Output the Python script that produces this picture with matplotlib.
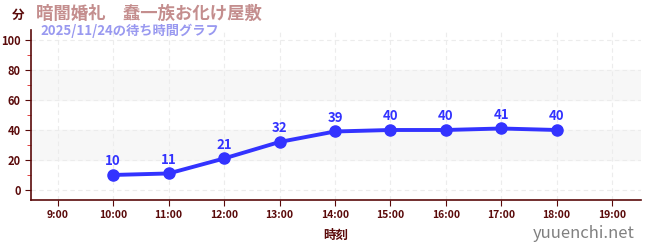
import matplotlib.pyplot as plt
from matplotlib.ticker import MultipleLocator

plt.rcParams['font.family'] = ['Noto Sans CJK JP', 'DejaVu Sans']

hours = [10, 11, 12, 13, 14, 15, 16, 17, 18]
waits = [10, 11, 21, 32, 39, 40, 40, 41, 40]
tick_hours = list(range(9, 20))
tick_labels = [f"{h}:00" for h in tick_hours]

title = "暗闇婚礼　蠢一族お化け屋敷"
subtitle = "2025/11/24の待ち時間グラフ"

axis_col = "#5a0a0a"
line_col = "#3333ff"

fig = plt.figure(figsize=(6.5, 2.5), dpi=100)
ax = fig.add_axes([0.048, 0.2, 0.938, 0.68])

ax.set_xlim(8.52, 19.52)
ax.set_ylim(-6.7, 106.7)

# shaded bands
for lo, hi in [(20, 40), (60, 80)]:
    ax.axhspan(lo, hi, color="#f7f7f7", zorder=0)

ax.set_xticks(tick_hours)
ax.set_xticklabels(tick_labels)
ax.set_yticks(range(0, 101, 20))
ax.yaxis.set_minor_locator(MultipleLocator(10))
ax.grid(True, which="major", color="#ececec", linestyle=(0, (4, 3)), linewidth=0.8)
ax.set_axisbelow(True)

for s in ["top", "right"]:
    ax.spines[s].set_visible(False)
for s in ["left", "bottom"]:
    ax.spines[s].set_color(axis_col)
    ax.spines[s].set_linewidth(1.2)

ax.tick_params(axis="both", which="major", colors=axis_col, labelsize=7.5, length=4)
ax.tick_params(axis="y", which="minor", colors="#dd2222", length=3)
ax.tick_params(axis="y", labelsize=8)
for lbl in ax.get_xticklabels() + ax.get_yticklabels():
    lbl.set_fontweight("bold")

ax.plot(hours, waits, color=line_col, linewidth=2.8, marker="o", markersize=8, zorder=3)
for h, w in zip(hours, waits):
    ax.annotate(str(w), (h, w), xytext=(0, 5), textcoords="offset points",
                ha="center", va="bottom", color=line_col, fontsize=9.5, fontweight="bold")

ax.set_xlabel("時刻", color=axis_col, fontsize=9, fontweight="bold", labelpad=6)

fig.text(0.018, 0.94, "分", color=axis_col, fontsize=9, fontweight="bold", va="center")
fig.text(0.055, 0.945, title, color="#c48e8e", fontsize=12.5, fontweight="bold", va="center")
fig.text(0.062, 0.875, subtitle, color="#9999f0", fontsize=9.5, fontweight="bold", va="center")
fig.text(0.977, 0.065, "yuuenchi.net", color="#808080", fontsize=12, ha="right", va="center")

fig.savefig("out.png", dpi=100)
